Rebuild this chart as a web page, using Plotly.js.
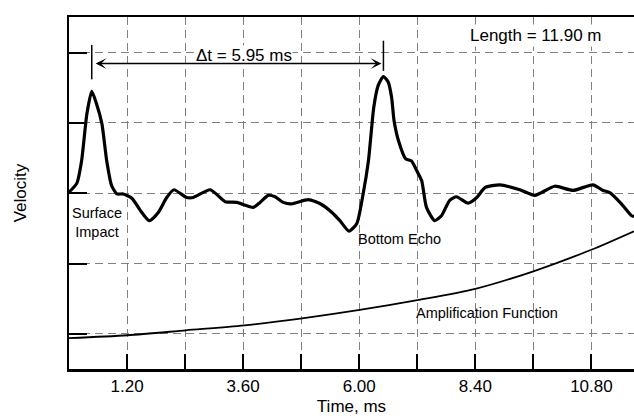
<!DOCTYPE html>
<html>
<head>
<meta charset="utf-8">
<script src="https://cdn.plot.ly/plotly-3.0.1.min.js"></script>
<style>
html,body{margin:0;padding:0;background:#fff;}
#chart{width:634px;height:416px;}
</style>
</head>
<body>
<div id="chart"></div>
<script>
// Velocity waveform (time in ms, velocity in relative grid units)
const time = [0.0,0.16,0.26,0.37,0.47,0.57,0.68,0.78,0.88,0.99,1.12,1.30,1.47,1.66,1.85,2.02,2.17,2.43,2.57,2.92,3.23,3.47,3.81,3.95,4.12,4.26,4.43,4.60,4.95,5.22,5.43,5.60,5.79,5.95,6.08,6.19,6.30,6.39,6.50,6.60,6.67,6.72,6.81,6.96,7.08,7.19,7.29,7.39,7.56,7.70,7.87,8.01,8.25,8.43,8.60,8.91,9.32,9.63,10.04,10.42,10.83,11.04,11.18,11.42,11.63,11.68];
const velocity = [3.015,3.14,3.46,4.13,4.45,4.27,3.99,3.46,3.11,2.99,2.99,2.93,2.76,2.61,2.73,2.94,3.05,2.94,2.94,3.05,2.88,2.87,2.80,2.87,2.97,2.95,2.87,2.85,2.91,2.84,2.73,2.61,2.46,2.57,2.99,3.46,4.22,4.53,4.66,4.58,4.36,4.03,3.75,3.49,3.46,3.32,3.18,2.80,2.61,2.68,2.90,2.95,2.86,2.94,3.08,3.12,3.05,2.97,3.10,3.04,3.12,3.04,3.01,2.85,2.68,2.67];

// Amplification function
const ampTime = [0,1.21,2.42,3.62,4.82,6.01,7.20,8.40,9.60,10.81,11.68];
const ampValue = [0.94,0.98,1.05,1.12,1.22,1.34,1.48,1.64,1.89,2.20,2.46];

// Axis ticks
const xTickVals = [1.2,2.4,3.6,4.8,6.0,7.2,8.4,9.6,10.8];
const xTickText = ['1.20','','3.60','','6.00','','8.40','','10.80'];
const yTickVals = [1,2,3,4,5];

// Labels
const deltaLabel = 'Δt = 5.95 ms';
const lengthLabel = 'Length = 11.90 m';

// peaks from data
function peakIn(lo, hi){
  let best = -1, bv = -Infinity;
  for (let i=0;i<time.length;i++){
    if (time[i]>=lo && time[i]<=hi && velocity[i]>bv){bv=velocity[i];best=i;}
  }
  return time[best];
}
const t1 = peakIn(0,3);
const t2 = peakIn(3,12);

const font = 'Liberation Sans, Arial, Helvetica, sans-serif';
const arrowY = 4.845;

const traces = [
  {x: time, y: velocity, mode:'lines', line:{color:'#000', width:3.2, shape:'spline', smoothing:0.6}, hoverinfo:'skip'},
  {x: ampTime, y: ampValue, mode:'lines', line:{color:'#000', width:1.8, shape:'spline', smoothing:0.8}, hoverinfo:'skip'}
];

const layout = {
  width:634, height:416,
  margin:{l:69, r:0, t:17, b:47},
  paper_bgcolor:'#fff', plot_bgcolor:'#fff',
  showlegend:false,
  font:{family:font, color:'#000', size:17},
  xaxis:{
    range:[0,11.68], showline:true, linewidth:2.5, linecolor:'#000', mirror:true,
    tickmode:'array', tickvals:xTickVals, ticktext:xTickText,
    ticks:'inside', ticklen:15, tickwidth:2, tickcolor:'#000',
    showgrid:true, gridcolor:'#808080', gridwidth:1, griddash:'8px,5px',
    zeroline:false, tickfont:{size:17, family:font, color:'#000'},
    title:{text:'Time, ms', font:{size:17, family:font, color:'#000'}, standoff:10}
  },
  yaxis:{
    range:[0.5,5.507], showline:true, linewidth:2.5, linecolor:'#000',
    tickmode:'array', tickvals:yTickVals, showticklabels:false,
    ticks:'inside', ticklen:18, tickwidth:2, tickcolor:'#000',
    showgrid:true, gridcolor:'#808080', gridwidth:1, griddash:'8px,5px',
    zeroline:false,
    title:{text:'Velocity', font:{size:17, family:font, color:'#000'}, standoff:36}
  },
  shapes:[
    {type:'line', xref:'x', yref:'y', x0:t1, x1:t1, y0:4.62, y1:5.11, line:{color:'#000', width:1.5}},
    {type:'line', xref:'x', yref:'y', x0:t2, x1:t2, y0:4.74, y1:5.17, line:{color:'#000', width:1.5}}
  ],
  annotations:[
    {x:3.62, y:4.96, xref:'x', yref:'y', text:deltaLabel, showarrow:false, bgcolor:'#fff',
     font:{size:17, family:font, color:'#000'}, borderpad:0},
    {x:t2-0.04, y:arrowY, ax:t1+0.05, ay:arrowY, xref:'x', yref:'y', axref:'x', ayref:'y',
     text:'', showarrow:true, arrowside:'end+start', arrowhead:3, startarrowhead:3,
     arrowsize:1.2, startarrowsize:1.2, arrowwidth:1.5, arrowcolor:'#000'},
    {x:9.66, y:5.24, xref:'x', yref:'y', text:lengthLabel, showarrow:false, bgcolor:'#fff',
     font:{size:17, family:font, color:'#000'}},
    {x:0.58, y:2.585, xref:'x', yref:'y', text:'Surface<br>Impact', showarrow:false,
     font:{size:14.5, family:font, color:'#000'}},
    {x:6.84, y:2.344, xref:'x', yref:'y', text:'Bottom Echo', showarrow:false,
     font:{size:14.5, family:font, color:'#000'}},
    {x:8.64, y:1.29, xref:'x', yref:'y', text:'Amplification Function', showarrow:false,
     font:{size:14.5, family:font, color:'#000'}}
  ]
};

Plotly.newPlot('chart', traces, layout, {displayModeBar:false, staticPlot:true});
</script>
</body>
</html>
